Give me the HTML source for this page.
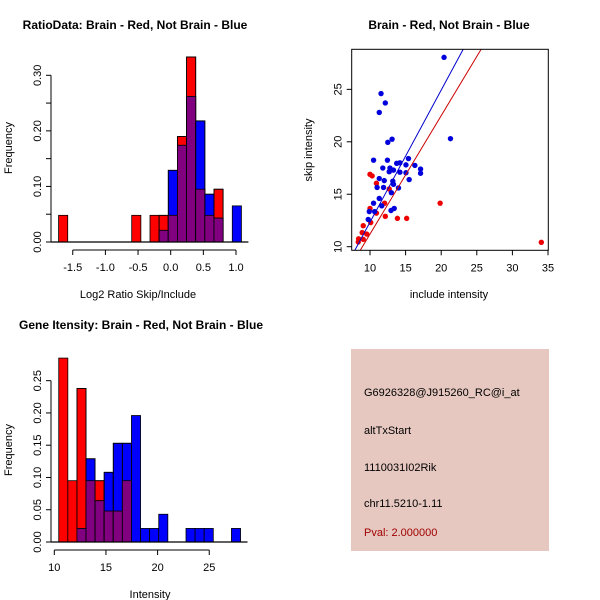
<!DOCTYPE html>
<html><head><meta charset="utf-8"><style>
html,body{margin:0;padding:0;background:#fff;}
svg{display:block;font-family:"Liberation Sans",Arial,sans-serif;}
</style></head><body>
<svg id="s" width="600" height="600" viewBox="0 0 600 600">
<rect width="600" height="600" fill="#fff"/>
<text x="135" y="29" font-size="12" font-weight="bold" text-anchor="middle">RatioData: Brain - Red, Not Brain - Blue</text>
<text x="449" y="29" font-size="12" font-weight="bold" text-anchor="middle">Brain - Red, Not Brain - Blue</text>
<text x="141" y="329" font-size="12" font-weight="bold" text-anchor="middle">Gene Itensity: Brain - Red, Not Brain - Blue</text>
<text x="138" y="298" font-size="11" text-anchor="middle">Log2 Ratio Skip/Include</text>
<text x="150" y="598" font-size="11" text-anchor="middle">Intensity</text>
<text x="449" y="298" font-size="11" text-anchor="middle">include intensity</text>
<text transform="translate(12,148) rotate(-90)" font-size="11" text-anchor="middle">Frequency</text>
<text transform="translate(12,450) rotate(-90)" font-size="11" text-anchor="middle">Frequency</text>
<text transform="translate(312,150) rotate(-90)" font-size="11" text-anchor="middle">skip intensity</text>
<g>
<rect x="351" y="349" width="198" height="202" fill="#e6c8c0"/>
<text x="364" y="396" font-size="11">G6926328@J915260_RC@i_at</text>
<text x="364" y="434" font-size="11">altTxStart</text>
<text x="364" y="471" font-size="11">1110031I02Rik</text>
<text x="364" y="507" font-size="11">chr11.5210-1.11</text>
<text x="364" y="536" font-size="11" fill="#a00000">Pval: 2.000000</text>
</g>
<g id="g1"></g><g id="g2"></g><g id="g3"></g>
</svg>
<script>
// Ratio histogram data
const ratioBreakStart = -1.717, ratioBinW = 0.14;
const ratioRed  = [0.048,0,0,0,0,0,0,0,0.048,0,0.048,0.048,0.048,0.19,0.333,0.095,0.048,0.095,0,0];
const ratioBlue = [0,0,0,0,0,0,0,0,0,0,0,0.021,0.129,0.174,0.262,0.218,0.086,0.043,0,0.065];
const ratioXTicks = [-1.5,-1.0,-0.5,0.0,0.5,1.0];
const ratioXLabels = ["-1.5","-1.0","-0.5","0.0","0.5","1.0"];
const ratioYTicks = [0,0.05,0.1,0.15,0.2,0.25,0.3];
const ratioYLabels = ["0.00","","0.10","","0.20","","0.30"];
// Intensity histogram data
const intBreakStart = 10.43, intBinW = 0.88;
const intRed  = [0.285,0.095,0.238,0.095,0.095,0.048,0.048,0.095,0,0,0,0,0,0,0,0,0,0,0,0];
const intBlue = [0,0,0.021,0.129,0.064,0.108,0.153,0.153,0.196,0.021,0.021,0.043,0,0,0.021,0.021,0.021,0,0,0.021];
const intXTicks = [10,15,20,25];
const intXLabels = ["10","15","20","25"];
const intYTicks = [0,0.05,0.1,0.15,0.2,0.25];
const intYLabels = ["0.00","0.05","0.10","0.15","0.20","0.25"];
// Scatter data
const blueX = [20.4,21.3,11.55,12.15,11.3,12.5,13.1,10.5,12.45,11.8,12.8,13.3,12.7,13.75,14.2,15.4,15.05,16.3,17.1,17.1,15.5,15.05,14.2,11.3,12.0,13.2,13.3,11.0,11.9,14.0,13.0,11.3,10.5,11.65,12.95,13.4,9.9,10.65,9.75];
const blueY = [28.05,20.3,24.6,23.7,22.8,19.95,20.25,18.25,18.25,17.5,17.5,17.3,17.15,17.95,18.0,18.4,17.8,17.75,17.4,17.0,16.4,17.05,17.1,16.5,16.3,16.25,15.95,15.65,15.65,15.6,15.15,14.6,14.15,13.9,13.45,13.65,13.35,13.35,12.6];
const redX = [10,10.3,10.9,12.7,12.05,10,10.9,12.15,13.85,15.15,19.85,10.1,9.05,9.55,8.9,8.4,9.05,8.35,34.06];
const redY = [16.9,16.75,16.05,15.5,14.15,13.65,13.2,12.9,12.7,12.7,14.15,12.3,12.0,11.2,11.35,10.75,10.7,10.45,10.42];
const blueFit = [-0.25,1.259];
const redFit = [-0.09,1.129];
const scXTicks = [10,15,20,25,30,35];
const scYTicks = [10,15,20,25];

const NS="http://www.w3.org/2000/svg";
function mk(p,t,a){const e=document.createElementNS(NS,t);for(const k in a)e.setAttribute(k,a[k]);p.appendChild(e);return e;}

function hist(g,bs,bw,red,blue,xs,ys,xt,xl,yt,yl,axY,xLineY){
  for(let i=0;i<red.length;i++){
    const x0=xs(bs+i*bw),x1=xs(bs+(i+1)*bw);
    const r=red[i],b=blue[i],m=Math.min(r,b);
    if(r>0){const e=mk(g,'rect',{x:x0,y:ys(r),width:x1-x0,height:ys(0)-ys(r),fill:'#ff0000',stroke:'#000','stroke-width':0.8});
      
      }
    if(b>0){const e=mk(g,'rect',{x:x0,y:ys(b),width:x1-x0,height:ys(0)-ys(b),fill:'#0000ff',stroke:'#000','stroke-width':0.8});
      
      }
    if(m>0){const e=mk(g,'rect',{x:x0,y:ys(r>b?r:b),width:x1-x0,height:ys(0)-ys(r>b?r:b),fill:'none',stroke:'#000','stroke-width':0.8});
      
      
      const p=mk(g,'rect',{x:x0,y:ys(m),width:x1-x0,height:ys(0)-ys(m),fill:'#800080',stroke:'#000','stroke-width':0.8});
      
      }
  }
  const base=mk(g,'line',{x1:axY,x2:xs(bs+red.length*bw)+7,y1:ys(0),y2:ys(0),stroke:'#000','stroke-width':1.2});
  
  
  const ax=mk(g,'g',{});
  
  
  mk(ax,'line',{x1:xs(xt[0]),x2:xs(xt[xt.length-1]),y1:xLineY,y2:xLineY,stroke:'#000'});
  xt.forEach((v,i)=>{mk(ax,'line',{x1:xs(v),x2:xs(v),y1:xLineY,y2:xLineY+5,stroke:'#000'});
    const t=mk(ax,'text',{x:xs(v),y:xLineY+21,'font-size':11,'text-anchor':'middle'});t.textContent=xl[i];
    
    });
  const ay=mk(g,'g',{});
  
  
  mk(ay,'line',{x1:axY,x2:axY,y1:ys(yt[0]),y2:ys(yt[yt.length-1]),stroke:'#000'});
  yt.forEach((v,i)=>{mk(ay,'line',{x1:axY,x2:axY-5,y1:ys(v),y2:ys(v),stroke:'#000'});
    if(yl[i]){const t=mk(ay,'text',{transform:`translate(${axY-10},${ys(v)}) rotate(-90)`,'font-size':11,'text-anchor':'middle'});t.textContent=yl[i];
    
    }});
}
hist(document.getElementById('g1'),ratioBreakStart,ratioBinW,ratioRed,ratioBlue,
  v=>170.7+v*65.3, v=>242-v*555.7, ratioXTicks,ratioXLabels,ratioYTicks,ratioYLabels,51,250);
hist(document.getElementById('g3'),intBreakStart,intBinW,intRed,intBlue,
  v=>54.3+(v-10)*10.33, v=>542-v*645.3, intXTicks,intXLabels,intYTicks,intYLabels,51,550);

// scatter
const g2=document.getElementById('g2');
const sx=v=>370+(v-10)*7.12, sy=v=>246.7-(v-10)*10.49;
const L=351.7,R=548.3,T=49.3,B=250.3;
mk(g2,'clipPath',{id:'cp'}).appendChild(document.createElementNS(NS,'rect'));
const cr=g2.querySelector('#cp rect');cr.setAttribute('x',L);cr.setAttribute('y',T);cr.setAttribute('width',R-L);cr.setAttribute('height',B-T);
const pts=mk(g2,'g',{'clip-path':'url(#cp)'});


redX.forEach((x,i)=>{const c=mk(pts,'circle',{cx:sx(x),cy:sy(redY[i]),r:2.7,fill:'#ee0000'});
  
  });
blueX.forEach((x,i)=>{const c=mk(pts,'circle',{cx:sx(x),cy:sy(blueY[i]),r:2.7,fill:'#0000dd'});
  
  });
[[blueFit,'#0000cc','blue-fit-line'],[redFit,'#cc0000','red-fit-line']].forEach(([f,c,n])=>{
  const l=mk(pts,'line',{x1:sx(5),y1:sy(f[0]+f[1]*5),x2:sx(40),y2:sy(f[0]+f[1]*40),stroke:c,'stroke-width':1});
  
  });
const box=mk(g2,'rect',{x:L,y:T,width:R-L,height:B-T,fill:'none',stroke:'#000'});


scXTicks.forEach(v=>{mk(g2,'line',{x1:sx(v),x2:sx(v),y1:B,y2:B+5,stroke:'#000'});
  const t=mk(g2,'text',{x:sx(v),y:B+21,'font-size':11,'text-anchor':'middle'});t.textContent=v;
  
  });
scYTicks.forEach(v=>{mk(g2,'line',{x1:L,x2:L-5,y1:sy(v),y2:sy(v),stroke:'#000'});
  const t=mk(g2,'text',{transform:`translate(${L-10},${sy(v)}) rotate(-90)`,'font-size':11,'text-anchor':'middle'});t.textContent=v;
  
  });
</script>
</body></html>
